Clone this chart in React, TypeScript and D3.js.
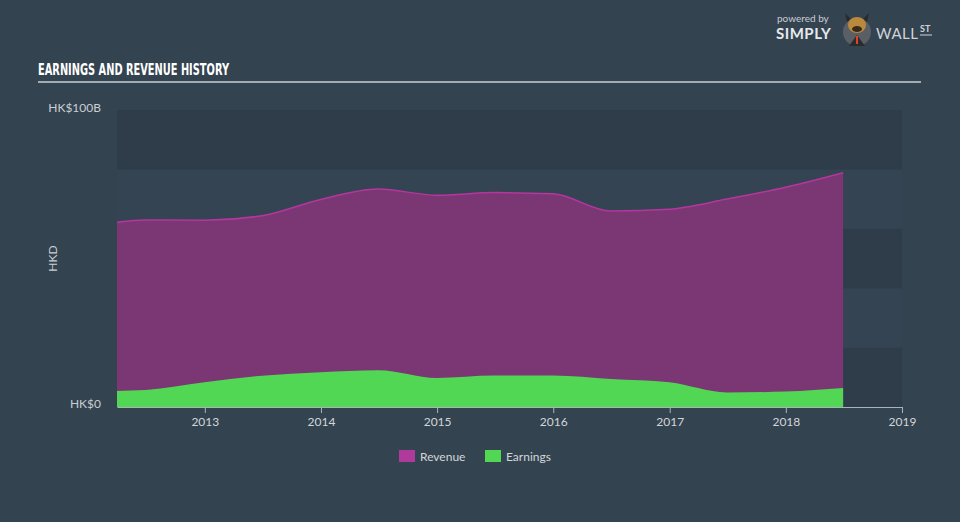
import React, { useEffect, useRef } from 'react';
import * as d3 from 'd3';

// half-yearly reporting points (plus first quarter point)
const periods = [
  '2012-03-31', '2012-06-30', '2012-12-31', '2013-06-30', '2013-12-31',
  '2014-06-30', '2014-12-31', '2015-06-30', '2015-12-31', '2016-06-30',
  '2016-12-31', '2017-06-30', '2017-12-31', '2018-06-30',
];
// HK$ billions
const revenue = [62.2, 63.0, 62.9, 64.4, 69.9, 73.4, 71.3, 72.2, 71.8, 66.0, 66.6, 70.0, 74.0, 78.9];
const earnings = [5.4, 5.7, 8.3, 10.5, 11.7, 12.4, 9.8, 10.6, 10.6, 9.4, 8.3, 4.9, 5.2, 6.4];
const yearTicks = [2013, 2014, 2015, 2016, 2017, 2018, 2019];
const legendItems = [
  { key: 'Revenue', color: '#b0399c' },
  { key: 'Earnings', color: '#52d755' },
];

const W = 960;
const H = 522;
const margin = { top: 110, right: 58, bottom: 115, left: 117 };

export default function App() {
  const ref = useRef<SVGSVGElement>(null);

  useEffect(() => {
    if (!ref.current) return;
    const svg = d3.select(ref.current);
    svg.selectAll('*').remove();

    const innerW = W - margin.left - margin.right;
    const innerH = H - margin.top - margin.bottom;
    const parse = d3.timeParse('%Y-%m-%d');
    const dates = periods.map(p => parse(p) as Date);

    const x = d3.scaleTime()
      .domain([dates[0], new Date(2019, 0, 1)])
      .range([0, innerW]);
    const y = d3.scaleLinear().domain([0, 100]).range([innerH, 0]);

    svg.append('rect').attr('width', W).attr('height', H).attr('fill', '#344350');

    // title
    svg.append('text')
      .attr('x', 38).attr('y', 75)
      .attr('fill', '#ffffff')
      .attr('font-family', '"Liberation Sans Narrow", "DejaVu Sans Condensed", sans-serif')
      .attr('font-weight', 'bold')
      .attr('font-size', 16)
      .attr('textLength', 191)
      .attr('lengthAdjust', 'spacingAndGlyphs')
      .text('EARNINGS AND REVENUE HISTORY');
    svg.append('line')
      .attr('x1', 38).attr('x2', 921).attr('y1', 82).attr('y2', 82)
      .attr('stroke', '#a3abb3').attr('stroke-width', 2);

    // logo
    const logo = svg.append('g').attr('font-family', 'Lato, "Open Sans", sans-serif');
    logo.append('text').attr('x', 777).attr('y', 22).attr('fill', '#c9ced3')
      .attr('font-size', 10).text('powered by');
    logo.append('text').attr('x', 776).attr('y', 39).attr('fill', '#e6e9ec')
      .attr('font-size', 15).attr('font-weight', 'bold').attr('letter-spacing', 0.5).text('SIMPLY');
    logo.append('circle').attr('cx', 857).attr('cy', 32).attr('r', 14).attr('fill', '#5a5f66');
    logo.append('path').attr('d', 'M847,22 L845,13 L851,19 Z M867,22 L869,13 L863,19 Z').attr('fill', '#2a2a2a');
    logo.append('ellipse').attr('cx', 857).attr('cy', 25).attr('rx', 9).attr('ry', 8).attr('fill', '#b98a3e');
    logo.append('ellipse').attr('cx', 857).attr('cy', 29).attr('rx', 5).attr('ry', 3).attr('fill', '#3a2a1a');
    logo.append('path').attr('d', 'M849,46 L857,35 L865,46 Z').attr('fill', '#2b2b2b');
    logo.append('path').attr('d', 'M856,36 L858,36 L858,44 L856,44 Z').attr('fill', '#d9452b');
    logo.append('text').attr('x', 876).attr('y', 39).attr('fill', '#d0d4d8')
      .attr('font-size', 15).attr('letter-spacing', 0.5).text('WALL');
    logo.append('text').attr('x', 920).attr('y', 32).attr('fill', '#d0d4d8')
      .attr('font-size', 9).attr('font-weight', 'bold').text('ST');
    logo.append('line').attr('x1', 920).attr('x2', 932).attr('y1', 35).attr('y2', 35)
      .attr('stroke', '#d0d4d8').attr('stroke-width', 1);

    const g = svg.append('g').attr('transform', `translate(${margin.left},${margin.top})`);

    // alternating bands
    const bandTicks = d3.range(0, 100, 20);
    g.selectAll('rect.band')
      .data(bandTicks)
      .enter()
      .append('rect')
      .attr('class', 'band')
      .attr('x', 0)
      .attr('width', innerW)
      .attr('y', d => y(d + 20))
      .attr('height', d => y(d) - y(d + 20))
      .attr('fill', (d, i) => (i % 2 === 0 ? '#2f3c4a' : '#354452'));

    const rows = dates.map((d, i) => ({ date: d, revenue: revenue[i], earnings: earnings[i] }));

    const revArea = d3.area<typeof rows[0]>()
      .x(d => x(d.date)).y0(y(0)).y1(d => y(d.revenue)).curve(d3.curveMonotoneX);
    const revLine = d3.line<typeof rows[0]>()
      .x(d => x(d.date)).y(d => y(d.revenue)).curve(d3.curveMonotoneX);
    const earnArea = d3.area<typeof rows[0]>()
      .x(d => x(d.date)).y0(y(0)).y1(d => y(d.earnings)).curve(d3.curveMonotoneX);

    g.append('path').datum(rows).attr('d', revArea).attr('fill', '#7b3774');
    g.append('path').datum(rows).attr('d', revLine).attr('fill', 'none')
      .attr('stroke', '#b4369e').attr('stroke-width', 1.5);
    g.append('path').datum(rows).attr('d', earnArea).attr('fill', '#52d755');

    // x axis
    const xAxis = g.append('g')
      .attr('transform', `translate(0,${innerH})`)
      .call(
        d3.axisBottom(x)
          .tickValues(yearTicks.map(yr => new Date(yr, 0, 1)))
          .tickFormat(d => d3.timeFormat('%Y')(d as Date))
          .tickSize(6)
          .tickSizeOuter(0)
      );
    xAxis.select('.domain').attr('stroke', '#aab2ba');
    xAxis.selectAll('.tick line').attr('stroke', '#aab2ba');
    xAxis.selectAll('.tick text')
      .attr('fill', '#d2d6da')
      .attr('font-size', 12)
      .attr('font-family', 'Lato, "Open Sans", sans-serif')
      .attr('dy', '0.85em');

    // y labels
    const yLabels = [{ v: 100, t: 'HK$100B', dy: 2 }, { v: 0, t: 'HK$0', dy: 1 }];
    g.selectAll('text.ylab')
      .data(yLabels)
      .enter()
      .append('text')
      .attr('class', 'ylab')
      .attr('x', -16)
      .attr('y', d => y(d.v) + d.dy)
      .attr('text-anchor', 'end')
      .attr('fill', '#c9ced3')
      .attr('font-size', 12)
      .attr('font-family', 'Lato, "Open Sans", sans-serif')
      .text(d => d.t);

    svg.append('text')
      .attr('transform', `translate(57,${margin.top + innerH / 2}) rotate(-90)`)
      .attr('text-anchor', 'middle')
      .attr('fill', '#c9ced3')
      .attr('font-size', 12)
      .attr('font-family', 'Lato, "Open Sans", sans-serif')
      .text('HKD');

    // legend
    const legend = svg.append('g').attr('transform', 'translate(399,450)');
    const item = legend.selectAll('g')
      .data(legendItems)
      .enter()
      .append('g')
      .attr('transform', (d, i) => `translate(${i * 86},0)`);
    item.append('rect').attr('width', 16).attr('height', 12).attr('fill', d => d.color);
    item.append('text')
      .attr('x', 21).attr('y', 10.5)
      .attr('fill', '#d2d6da')
      .attr('font-size', 12)
      .attr('font-family', 'Lato, "Open Sans", sans-serif')
      .text(d => d.key);
  }, []);

  return (
    <svg
      ref={ref}
      width={W}
      height={H}
      style={{ position: 'absolute', left: 0, top: 0, display: 'block' }}
    />
  );
}
